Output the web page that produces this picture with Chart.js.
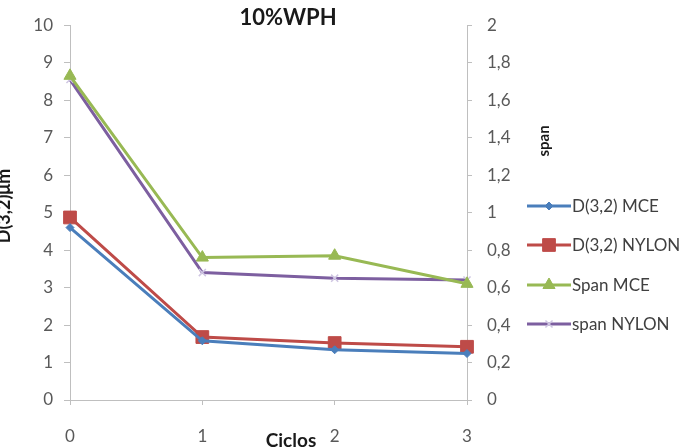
<!DOCTYPE html>
<html lang="es">
<head>
    <meta charset="UTF-8">
    <title>10%WPH</title>
    <script src="https://cdn.jsdelivr.net/npm/chart.js"></script>
</head>
<body style="margin:0;background:#fff;">
    <canvas id="chart_wph" width="687" height="448"></canvas>

    <script>
        // datos
        const ciclos = ['0', '1', '2', '3'];
        const d32MCE = [4.6, 1.58, 1.34, 1.24];
        const d32NYLON = [4.87, 1.68, 1.52, 1.42];
        const spanMCE = [1.73, 0.76, 0.77, 0.62];
        const spanNYLON = [1.71, 0.68, 0.65, 0.64];

        const font = 'Lato, "Open Sans", sans-serif';
        const gris = '#595959';

        const series = [
            { label: 'D(3,2) MCE', data: d32MCE, color: '#4A7EBB', point: 'rectRot', r: 4, pc: '#4A7EBB', axis: 'y' },
            { label: 'D(3,2) NYLON', data: d32NYLON, color: '#BE4B48', point: 'rect', r: 9, pc: '#BE4B48', axis: 'y' },
            { label: 'Span MCE', data: spanMCE, color: '#98B954', point: 'triangle', r: 7, pc: '#98B954', axis: 'y2' },
            { label: 'span NYLON', data: spanNYLON, color: '#7D5FA0', point: 'crossRot', r: 5, pc: '#CFC6E2', axis: 'y2' }
        ];

        // titulos y leyenda a mano (estilo excel)
        const extras = {
            id: 'extras',
            afterDraw(chart) {
                const ctx = chart.ctx;
                ctx.save();
                ctx.fillStyle = '#1a1a1a';
                ctx.textAlign = 'center';
                ctx.textBaseline = 'middle';
                ctx.font = 'bold 22px ' + font;
                ctx.fillText('10%WPH', 288, 18);
                ctx.font = 'bold 19px ' + font;
                ctx.fillText('Ciclos', 291, 441);

                ctx.save();
                ctx.translate(4, 206);
                ctx.rotate(-Math.PI / 2);
                ctx.font = 'bold 18px ' + font;
                ctx.fillText('D(3,2)μm', 0, 0);
                ctx.restore();

                ctx.save();
                ctx.translate(544, 141);
                ctx.rotate(-Math.PI / 2);
                ctx.font = 'bold 15px ' + font;
                ctx.fillText('span', 0, 0);
                ctx.restore();

                // leyenda
                const ys = [206, 245, 285, 324];
                ctx.textAlign = 'left';
                ctx.font = '17px ' + font;
                series.forEach((s, i) => {
                    const y = ys[i];
                    ctx.strokeStyle = s.color;
                    ctx.lineWidth = 3;
                    ctx.beginPath();
                    ctx.moveTo(527, y);
                    ctx.lineTo(571, y);
                    ctx.stroke();
                    ctx.fillStyle = s.pc;
                    ctx.strokeStyle = s.pc;
                    ctx.lineWidth = s.point === 'crossRot' ? 1.5 : 1;
                    Chart.helpers.drawPoint(ctx, { pointStyle: s.point, radius: s.r, rotation: 0, borderWidth: ctx.lineWidth }, 549, y);
                    ctx.fillStyle = '#404040';
                    ctx.fillText(s.label, 572, y + 1);
                });
                ctx.restore();
            }
        };

        const ctx = document.getElementById('chart_wph').getContext('2d');
        new Chart(ctx, {
            type: 'line',
            data: {
                labels: ciclos,
                datasets: series.map(s => ({
                    label: s.label,
                    data: s.data,
                    yAxisID: s.axis,
                    borderColor: s.color,
                    backgroundColor: s.pc,
                    borderWidth: 3,
                    pointStyle: s.point,
                    pointRadius: s.r,
                    pointBorderColor: s.pc,
                    pointBackgroundColor: s.pc,
                    pointBorderWidth: s.point === 'crossRot' ? 1.5 : 1,
                    tension: 0,
                    fill: false
                }))
            },
            options: {
                responsive: false,
                animation: false,
                layout: { padding: { top: 20, left: 0, right: 0, bottom: 0 } },
                plugins: { legend: { display: false }, tooltip: { enabled: false } },
                scales: {
                    x: {
                        offset: false,
                        grid: { display: true, drawOnChartArea: false, tickLength: 5, color: '#bfbfbf' },
                        border: { color: '#bfbfbf' },
                        ticks: { color: gris, font: { family: font, size: 17 }, padding: 21, maxRotation: 0 },
                        afterFit(scale) { scale.height = 48; }
                    },
                    y: {
                        position: 'left',
                        min: 0, max: 10,
                        ticks: { stepSize: 1, color: gris, font: { family: font, size: 17 }, padding: 11 },
                        grid: { display: true, drawOnChartArea: false, tickLength: 6, color: '#bfbfbf' },
                        border: { color: '#bfbfbf' },
                        afterFit(scale) { scale.width = 70; }
                    },
                    y2: {
                        position: 'right',
                        min: 0, max: 2,
                        ticks: {
                            stepSize: 0.2, color: gris, font: { family: font, size: 17 }, padding: 15,
                            callback: v => String(Math.round(v * 10) / 10).replace('.', ',')
                        },
                        grid: { display: true, drawOnChartArea: false, tickLength: 5, color: '#bfbfbf' },
                        border: { color: '#bfbfbf' },
                        afterFit(scale) { scale.width = 220; }
                    }
                }
            },
            plugins: [extras]
        });
    </script>
</body>
</html>
